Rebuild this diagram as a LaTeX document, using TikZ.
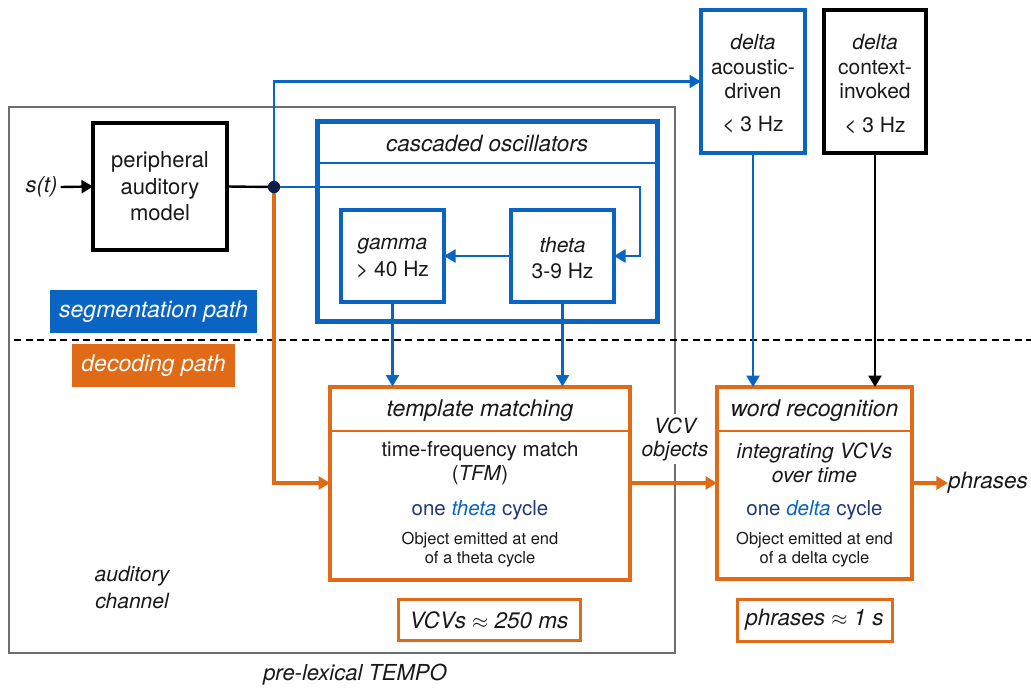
\documentclass[tikz,border=0pt]{standalone}
\usepackage{fontspec}
\setmainfont{TeX Gyre Heros}
\usetikzlibrary{arrows.meta,calc}
\definecolor{cblue}{RGB}{10,100,196}
\definecolor{corange}{RGB}{224,106,22}
\definecolor{cnavy}{RGB}{32,56,118}
\definecolor{cdot}{RGB}{12,32,72}
\definecolor{ctext}{RGB}{25,25,25}
\definecolor{cgrey}{RGB}{110,110,110}
\newcommand{\fsz}[2]{\fontsize{#1}{#2}\selectfont}
\tikzset{
  box/.style={draw, rectangle, inner sep=0pt, outer sep=0pt},
  bluebox/.style={box, draw=cblue, line width=3.8pt},
  orangebox/.style={box, draw=corange, line width=4pt},
  blackbox/.style={box, draw=black, line width=3.5pt},
  txt/.style={inner sep=0pt, align=center, text=ctext},
  tip/.style={-{Triangle[length=11.5pt,width=13pt]}},
  bline/.style={draw=cblue, line width=2.4pt},
  oline/.style={draw=corange, line width=3.2pt},
  kline/.style={draw=black, line width=2.4pt},
  tag/.style={rectangle, inner sep=0pt, outer sep=0pt, text=white, font=\fsz{23}{27}\itshape},
}
\begin{document}
\begin{tikzpicture}[x=1pt,y=-1pt]
\useasboundingbox (0,0) rectangle (1031,688);
\fill[white] (0,0) rectangle (1031,688);

% outer pre-lexical box
\node[box, draw=cgrey, line width=1.2pt, minimum width=666pt, minimum height=546pt] (outer) at (342,380) {};
\node[txt, font=\fsz{22}{26}\itshape] (pre) at (355,675) {pre-lexical TEMPO};
\node[txt, fill=white, inner sep=3pt, font=\fsz{21}{23}\itshape] (vcv) at (675,439) {VCV\\objects};

% dashed separator
\coordinate (dl) at (14,340);
\coordinate (dr) at (1031,340);
\draw[line width=2.2pt, dash pattern=on 7pt off 4.5pt] (dl) -- (dr);

% peripheral model
\node[blackbox, minimum width=134pt, minimum height=127pt] (periph) at (160,186.5) {};
\node[txt, font=\fsz{22}{26.5}] (periphT) at (160,186.5) {peripheral\\auditory\\model};
\node[txt, inner sep=3pt, font=\fsz{22}{26}\itshape] (s) at (41.5,187) {s(t)};

% cascaded oscillators
\node[box, draw=cblue, line width=5pt, minimum width=340pt, minimum height=200pt] (casc) at (487,221) {};
\draw[cblue, line width=1.2pt] (casc.north west |- 0,163) -- (casc.north east |- 0,163);
\node[txt, font=\fsz{22.5}{26}\itshape] (cascT) at (487,143) {cascaded oscillators};
\node[bluebox, minimum width=103pt, minimum height=92pt] (gamma) at (392.5,256) {};
\node[bluebox, minimum width=103pt, minimum height=92pt] (theta) at (562.5,256) {};
\node[txt, font=\fsz{21}{27}] (gammaT) at (392.5,258) {\textit{gamma}\\> 40 Hz};
\node[txt, font=\fsz{21}{27}] (thetaT) at (562.5,258) {\textit{theta}\\3-9 Hz};

% path tags
\node[tag, fill=cblue, minimum width=207pt, minimum height=43pt] (seg) at (153.5,311.5) {segmentation path};
\node[tag, fill=corange, minimum width=163pt, minimum height=43pt] (dec) at (153.5,365.5) {decoding path};
\node[txt, font=\fsz{21}{27}\itshape] (aud) at (132,587) {auditory\\channel};

% delta boxes
\node[bluebox, minimum width=104pt, minimum height=143pt] (dA) at (753,81.5) {};
\node[box, draw=black, line width=4pt, minimum width=102pt, minimum height=143pt] (dC) at (875,81.5) {};
\node[txt, font=\fsz{21}{24.5}] (dAT) at (753,67) {\textit{delta}\\acoustic-\\driven};
\node[txt, font=\fsz{21}{24.5}] (dAH) at (753,125) {< 3 Hz};
\node[txt, font=\fsz{21}{24.5}] (dCT) at (875,67) {\textit{delta}\\context-\\invoked};
\node[txt, font=\fsz{21}{24.5}] (dCH) at (875,126) {< 3 Hz};

% template matching
\node[orangebox, minimum width=300pt, minimum height=193pt] (tm) at (480,483) {};
\draw[corange, line width=1.5pt] (tm.north west |- 0,431) -- (tm.north east |- 0,431);
\node[txt, font=\fsz{23}{27}\itshape] (tmH) at (480,411) {template matching};
\node[txt, font=\fsz{20.5}{24}] (tm1) at (480,463) {time-frequency match\\(\textit{TFM})};
\node[txt, font=\fsz{20.5}{24}, text=cnavy] (tm3) at (480,510) {one \textcolor{cblue}{\textit{theta}} cycle};
\node[txt, font=\fsz{16.5}{19}] (tm4) at (480,550) {Object emitted at end\\of a theta cycle};

% word recognition
\node[orangebox, minimum width=195pt, minimum height=192pt] (wr) at (814.5,483) {};
\draw[corange, line width=1.5pt] (wr.north west |- 0,431) -- (wr.north east |- 0,431);
\node[txt, font=\fsz{23}{27}\itshape] (wrH) at (814.5,411) {word recognition};
\node[txt, font=\fsz{21}{24}\itshape] (wr1) at (814.5,463) {integrating VCVs\\over time};
\node[txt, font=\fsz{20.5}{24}, text=cnavy] (wr3) at (814.5,510) {one \textcolor{cblue}{\textit{delta}} cycle};
\node[txt, font=\fsz{16.5}{19}] (wr4) at (814.5,550) {Object emitted at end\\of a delta cycle};

% duration boxes
\node[box, draw=corange, line width=3pt, minimum width=182pt, minimum height=41pt, font=\fsz{22.5}{26}\itshape, text=ctext] (vcvs) at (489,620) {VCVs $\approx$ 250 ms};
\node[box, draw=corange, line width=3pt, minimum width=155pt, minimum height=42pt, font=\fsz{22.5}{26}\itshape, text=ctext] (phb) at (814.5,620) {phrases $\approx$ 1 s};
\node[txt, font=\fsz{22.5}{26}\itshape] (phr) at (988,483) {phrases};

% connectors
\coordinate (J) at (274,187);
\coordinate (bend) at (640,187);
\draw[kline, tip] (s.east) -- (periph.west);
\draw[kline] (periph.east) -- (J);
\draw[bline, tip] (J) |- (dA.west);
\draw[bline, tip] (J) -- (bend) |- (theta.east);
\draw[bline, tip] (theta.west) -- (gamma.east);
\draw[bline, tip] (gamma.south) -- (gamma.south |- tm.north);
\draw[bline, tip] (theta.south) -- (theta.south |- tm.north);
\draw[bline, tip] (dA.south) -- (dA.south |- wr.north);
\draw[kline, tip] (dC.south) -- (dC.south |- wr.north);
\draw[oline, tip] (J) |- (tm.west);
\draw[oline, tip] (tm.east) -- (wr.west);
\draw[oline, tip] (wr.east) -- (phr.west);
\fill[cdot] (J) circle (6.2pt);
\end{tikzpicture}
\end{document}
